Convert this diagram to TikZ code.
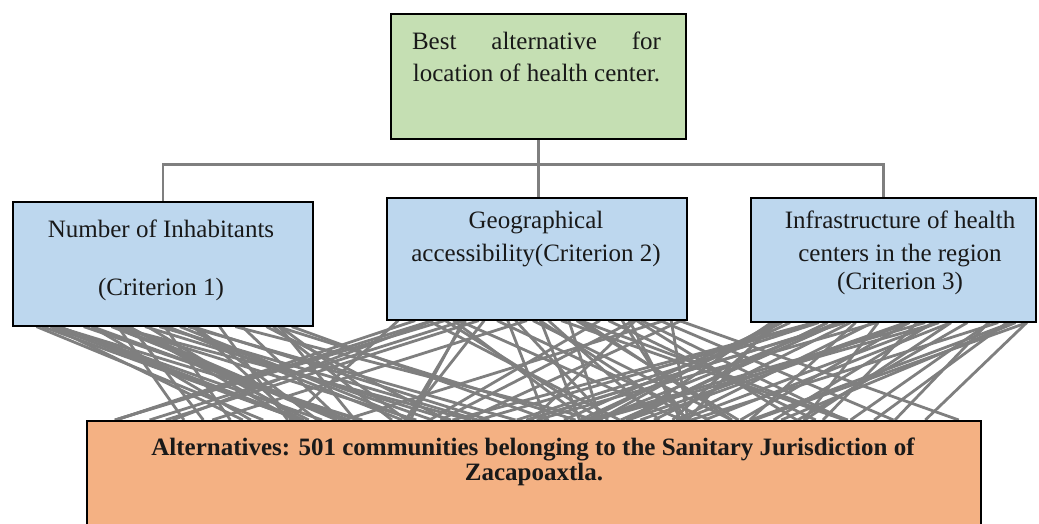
\documentclass[tikz,border=0pt]{standalone}
\usepackage{fontspec}
\setmainfont{Liberation Serif}
\usetikzlibrary{calc,backgrounds}
\definecolor{topgreen}{HTML}{C5DFB3}
\definecolor{critblue}{HTML}{BDD7EE}
\definecolor{altorange}{HTML}{F4B183}
\definecolor{linegray}{HTML}{7F7F7F}
\begin{document}
\begin{tikzpicture}[x=1pt,y=-1pt,
  box/.style={draw=black,line width=1.6pt,inner sep=0pt,anchor=north west},
  lbl/.style={anchor=base,inner sep=0pt,text=black!90,font=\fontsize{25}{33}\selectfont},
  tree/.style={draw=linegray,line width=2.6pt},
  web/.style={draw=linegray,line width=2.8pt}]
\useasboundingbox (0,0) rectangle (1039,524);
% boxes
\node[box,fill=topgreen,minimum width=295pt,minimum height=125pt] (goal) at (390,13) {};
\node[box,fill=critblue,minimum width=300pt,minimum height=124pt] (c1) at (12,201) {};
\node[box,fill=critblue,minimum width=300pt,minimum height=122pt] (c2) at (386,197) {};
\node[box,fill=critblue,minimum width=285pt,minimum height=124pt] (c3) at (750,197) {};
\node[box,fill=altorange,minimum width=894pt,minimum height=108pt] (alt) at (86,420) {};
% texts
\node[lbl] (g1) at (536.5,50) {\makebox[249pt][s]{Best\hfill alternative\hfill for}};
\node[lbl] (g2) at (536.5,82) {location of health center.};
\node[lbl] (t1a) at (161,237) {Number of Inhabitants};
\node[lbl] (t1b) at (161,295) {(Criterion 1)};
\node[lbl] (t2a) at (536,228) {Geographical};
\node[lbl] (t2b) at (536,261) {accessibility(Criterion 2)};
\node[lbl] (t3a) at (900,228) {Infrastructure of health};
\node[lbl] (t3b) at (900,261) {centers in the region};
\node[lbl] (t3c) at (900,289) {(Criterion 3)};
\node[lbl,font=\fontsize{25}{33}\selectfont\bfseries] (a1) at (533,455) {Alternatives: 501 communities belonging to the Sanitary Jurisdiction of};
\node[lbl,font=\fontsize{25}{33}\selectfont\bfseries] (a2) at (534,480) {Zacapoaxtla.};
% tree connectors
\coordinate (hub) at ($(goal.south)+(0,25)$);
\coordinate (c3top) at ($(c3.north west)!0.465!(c3.north east)$);
\begin{scope}[on background layer]
\draw[tree] (goal.south) -- (hub);
\draw[tree] (c1.north) |- (hub) -| (c3top);
\draw[tree] (hub) -- (hub |- c2.north);
% web of connectors from criteria to alternatives
\pgfmathsetseed{4242}
\foreach \i in {1,...,40}{
  \pgfmathsetmacro\sa{0.08+0.89*rnd}
  \pgfmathsetmacro\sx{12+300*\sa}
  \pgfmathsetmacro\ex{min(965,\sx+65+300*rnd)}
  \pgfmathsetmacro\eb{(\ex-86)/894}
  \draw[web] ($(c1.south west)!\sa!(c1.south east)$) -- ($(alt.north west)!\eb!(alt.north east)$);
}
\foreach \i in {1,...,40}{
  \pgfmathsetmacro\sa{0.04+0.94*rnd}
  \pgfmathsetmacro\sx{386+300*\sa}
  \pgfmathsetmacro\ex{max(110,min(960,\sx+(2*rnd-1)*330))}
  \pgfmathsetmacro\eb{(\ex-86)/894}
  \draw[web] ($(c2.south west)!\sa!(c2.south east)$) -- ($(alt.north west)!\eb!(alt.north east)$);
}
\foreach \i in {1,...,40}{
  \pgfmathsetmacro\sa{0.05+0.93*rnd}
  \pgfmathsetmacro\sx{750+285*\sa}
  \pgfmathsetmacro\ex{max(110,\sx-65-300*rnd)}
  \pgfmathsetmacro\eb{(\ex-86)/894}
  \draw[web] ($(c3.south west)!\sa!(c3.south east)$) -- ($(alt.north west)!\eb!(alt.north east)$);
}
\end{scope}
\end{tikzpicture}
\end{document}
